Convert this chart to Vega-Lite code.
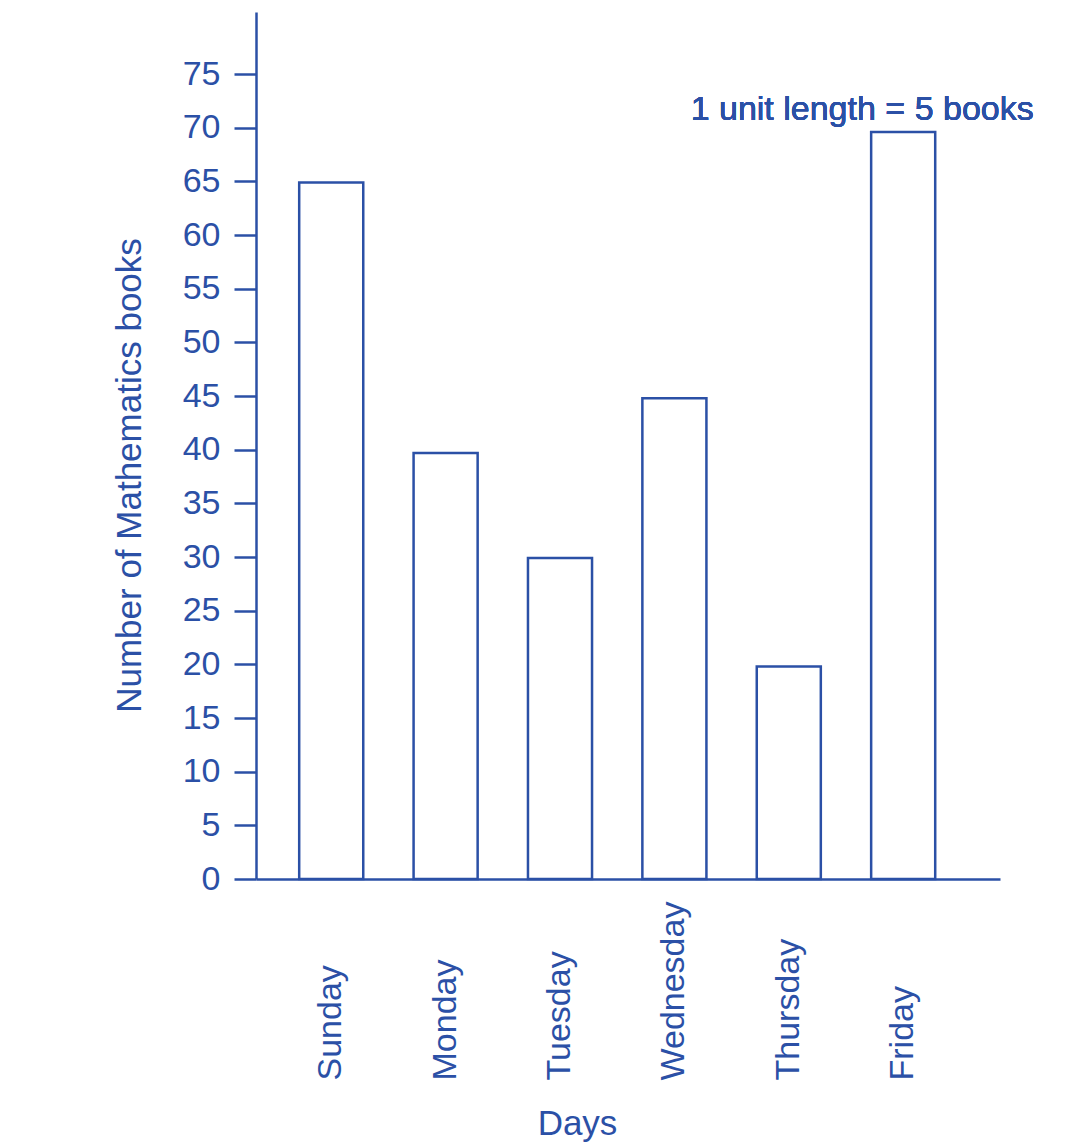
{
  "$schema": "https://vega.github.io/schema/vega-lite/v6.json",
  "autosize": {"type": "none"},
  "padding": {"left": 256, "top": 12, "right": 77, "bottom": 263},
  "width": 744,
  "height": 867,
  "background": "white",
  "config": {
    "view": {"stroke": null},
    "font": "Liberation Sans",
    "axis": {"grid": false, "domainColor": "#2b50a6", "domainWidth": 2.5, "tickColor": "#2b50a6", "tickWidth": 2.5, "labelColor": "#2b50a6", "titleColor": "#2b50a6", "labelFont": "Liberation Sans", "titleFont": "Liberation Sans", "labelFontSize": 34, "titleFontSize": 35, "titleFontWeight": "normal"}
  },
  "data": {
    "values": [
      {"day": "Sunday", "books": 64.9},
      {"day": "Monday", "books": 39.7},
      {"day": "Tuesday", "books": 29.9},
      {"day": "Wednesday", "books": 44.8},
      {"day": "Thursday", "books": 19.8},
      {"day": "Friday", "books": 69.6}
    ]
  },
  "layer": [
    {
      "mark": {"type": "bar", "fill": "white", "stroke": "#2b50a6", "strokeWidth": 2.5},
      "encoding": {
        "x": {
          "field": "day", "type": "nominal", "sort": null,
          "scale": {"paddingInner": 0.44, "paddingOuter": 0.472, "align": 0.4},
          "axis": {"title": "Days", "ticks": false, "labelAngle": 270, "labelAlign": "left", "labelBaseline": "middle", "labelPadding": 201, "titleX": 321, "titleY": 255, "titleBaseline": "alphabetic", "titleAnchor": null, "titleAlign": "center"}
        },
        "y": {
          "field": "books", "type": "quantitative",
          "scale": {"domain": [0, 80.78], "nice": false, "zero": true},
          "axis": {"title": "Number of Mathematics books", "values": [0,5,10,15,20,25,30,35,40,45,50,55,60,65,70,75], "tickSize": 22, "labelPadding": 14, "titleX": -116, "titleY": 463, "titleAngle": -90, "titleAlign": "center", "titleBaseline": "alphabetic", "titleAnchor": null}
        }
      }
    },
    {
      "mark": {"type": "text", "text": "1 unit length = 5 books", "fontSize": 34, "color": "#2b50a6", "font": "Liberation Sans", "align": "center", "baseline": "alphabetic", "dx": -41},
      "encoding": {
        "x": {"datum": "Friday", "type": "nominal"},
        "y": {"datum": 70.7, "type": "quantitative"}
      }
    }
  ]
}
